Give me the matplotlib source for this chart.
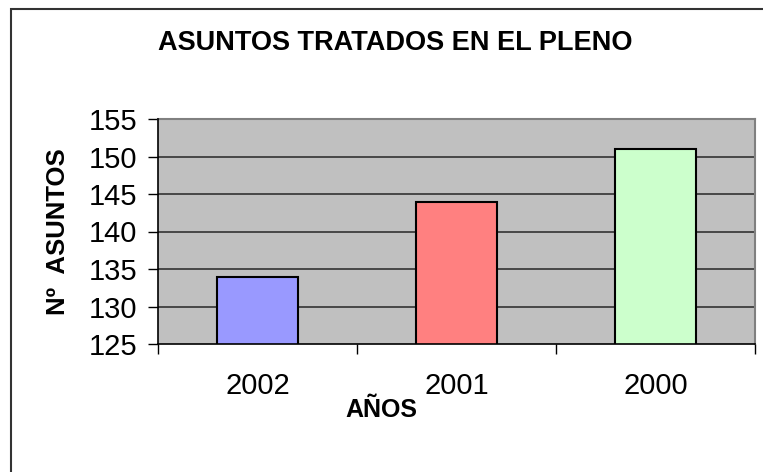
import matplotlib.pyplot as plt
from matplotlib.patches import Rectangle

# datos del grafico
anios = ['2002', '2001', '2000']
asuntos = [134, 144, 151]
colores = ['#9999FF', '#FF8080', '#CCFFCC']
yticks = [125, 130, 135, 140, 145, 150, 155]

plt.rcParams['font.family'] = ['Liberation Sans', 'DejaVu Sans']

W, H = 763, 472
fig = plt.figure(figsize=(W / 100, H / 100), dpi=100)

# marco exterior (solo se ven los bordes izquierdo y superior)
fig.patches.append(Rectangle((11 / W, -0.1), 1.2, 1 - 9 / H + 0.1,
                             transform=fig.transFigure, fill=False,
                             edgecolor='#333333', lw=1.5))

left, right, top, bottom = 158, 755, 119, 344
ax = fig.add_axes([left / W, 1 - bottom / H, (right - left) / W, (bottom - top) / H])
ax.set_facecolor('#C0C0C0')

x = list(range(len(anios)))
ax.bar(x, asuntos, width=0.41, color=colores, edgecolor='black', lw=1.5, zorder=3)

ax.set_ylim(125, 155)
ax.set_xlim(-0.5, len(anios) - 0.5)
ax.set_yticks(yticks)
ax.set_yticklabels([str(v) for v in yticks], fontsize=21)
for v in yticks[1:-1]:
    ax.axhline(v, color='#333333', lw=1.2, zorder=1)

# ticks en los limites de categoria, etiquetas al centro
ax.set_xticks([i - 0.5 for i in range(len(anios) + 1)])
ax.set_xticklabels([])
ax.set_xticks(x, minor=True)
ax.set_xticklabels(anios, minor=True, fontsize=21)
ax.tick_params(axis='x', which='major', direction='out', length=7, width=1, color='black')
ax.tick_params(axis='x', which='minor', length=0, pad=20)
ax.tick_params(axis='y', direction='out', length=7, width=1, color='black', pad=8)

for s in ['top', 'right']:
    ax.spines[s].set_color('#808080')
    ax.spines[s].set_linewidth(1.5)
for s in ['left', 'bottom']:
    ax.spines[s].set_color('black')
    ax.spines[s].set_linewidth(1.2)
    ax.spines[s].set_zorder(4)

fig.text(395 / W, 1 - 43 / H, 'ASUNTOS TRATADOS EN EL PLENO', fontsize=19.5,
         fontweight='bold', ha='center', va='center')
fig.text(58 / W, 1 - 232 / H, 'Nº  ASUNTOS', fontsize=18.5, fontweight='bold',
         rotation=90, ha='center', va='center')
fig.text(381 / W, 1 - 410 / H, 'AÑOS', fontsize=18, fontweight='bold',
         ha='center', va='center')

fig.savefig('out.png', dpi=100)
